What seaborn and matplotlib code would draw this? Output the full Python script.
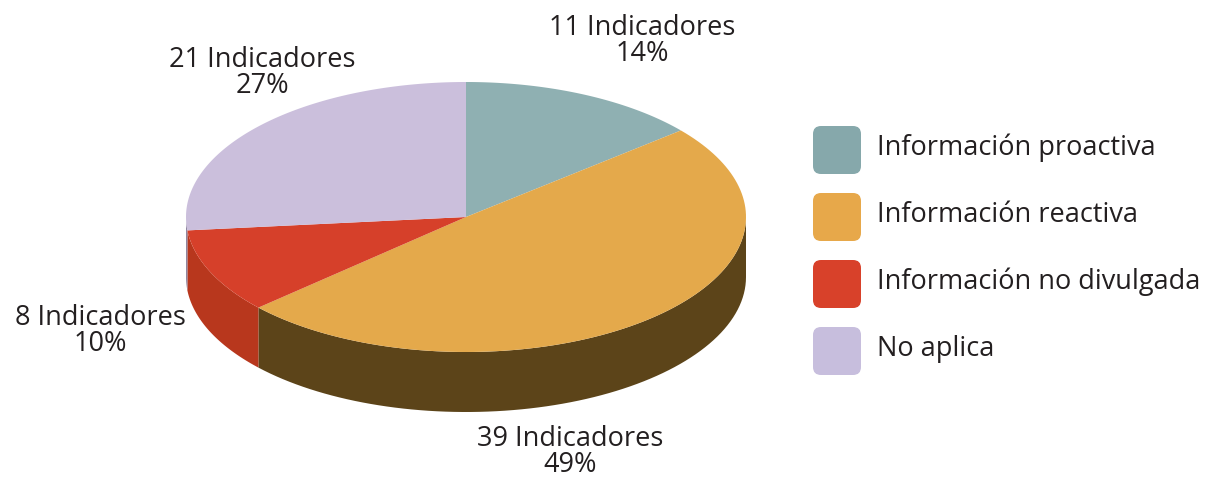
import numpy as np
import matplotlib.pyplot as plt
from matplotlib.patches import Polygon, FancyBboxPatch
import seaborn as sns

# data
categories = ["Información proactiva", "Información reactiva",
              "Información no divulgada", "No aplica"]
counts = [11, 39, 8, 21]
top_colors = ["#8fb0b2", "#e4a94b", "#d6402a", "#cbbfdc"]
side_colors = ["#5e7476", "#5c4419", "#b8371d", "#8f86a0"]
legend_colors = ["#86a8ab", "#e7a84a", "#d8412a", "#c7bedd"]

sns.set_theme(style="white")
plt.rcParams["font.family"] = ["Open Sans", "DejaVu Sans"]

W, H = 1219, 479
fig = plt.figure(figsize=(W / 100, H / 100), dpi=100)
ax = fig.add_axes([0, 0, 1, 1])
ax.set_xlim(0, W)
ax.set_ylim(H, 0)
ax.axis("off")

cx, cy, rx, ry, depth = 466, 217, 280, 135, 60


def pt(t, dy=0):
    return cx + rx * np.cos(t), cy - ry * np.sin(t) + dy


total = sum(counts)
angles = [np.pi / 2]
for c in counts:
    angles.append(angles[-1] - 2 * np.pi * c / total)

# side walls (front half only)
for i in range(len(counts)):
    a0, a1 = angles[i + 1], angles[i]
    lo = max(a0, -np.pi)
    hi = min(a1, 0)
    if hi <= lo:
        continue
    ts = np.linspace(lo, hi, 80)
    top = [pt(t) for t in ts]
    bot = [pt(t, depth) for t in ts[::-1]]
    ax.add_patch(Polygon(top + bot, closed=True, fc=side_colors[i], ec="none"))

# top faces
for i in range(len(counts)):
    ts = np.linspace(angles[i], angles[i + 1], 120)
    verts = [(cx, cy)] + [pt(t) for t in ts]
    ax.add_patch(Polygon(verts, closed=True, fc=top_colors[i], ec="none"))

# labels
fs = 19.5
label_pos = [(642, 41), (570, 452), (100, 331), (262, 73)]
for c, (x, y) in zip(counts, label_pos):
    pct = round(100 * c / total)
    ax.text(x, y, f"{c} Indicadores\n{pct}%", ha="center", va="center",
            fontsize=fs, color="#231f20", linespacing=0.9)

# legend
for i, (name, col) in enumerate(zip(categories, legend_colors)):
    y = 150 + i * 67
    ax.add_patch(FancyBboxPatch((813, y - 24), 48, 48,
                                boxstyle="round,pad=0,rounding_size=8",
                                fc=col, ec="none"))
    ax.text(877, y - 2, name, ha="left", va="center", fontsize=fs,
            color="#231f20")

fig.savefig("out.png", dpi=100, facecolor="white")
